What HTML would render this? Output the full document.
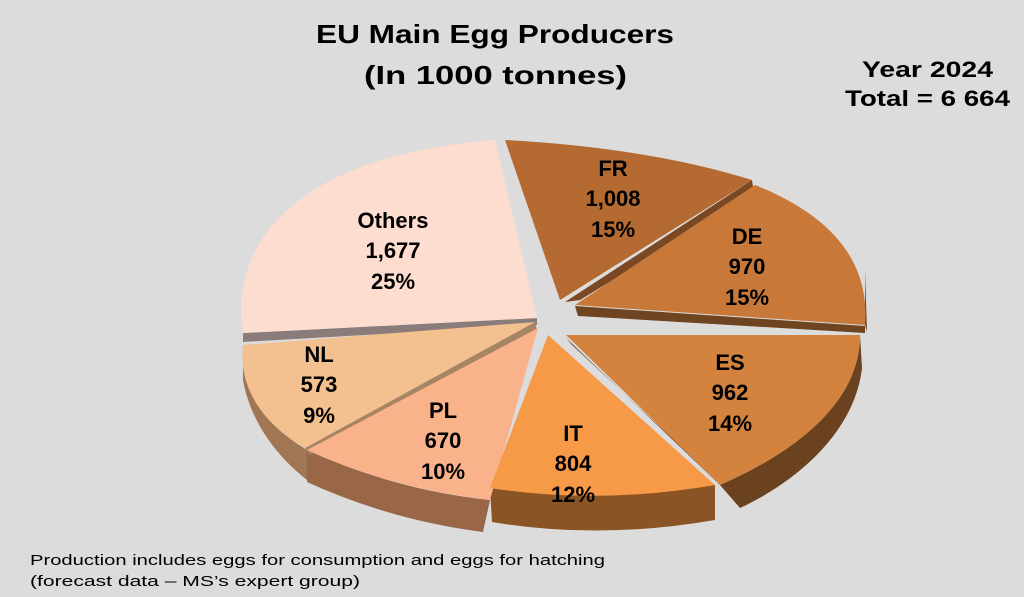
<!DOCTYPE html>
<html><head><meta charset="utf-8"><style>
html,body{margin:0;padding:0;background:#dcdcdc;}
svg{display:block;}
text{font-family:"Liberation Sans",sans-serif;font-weight:bold;fill:#000;}
</style></head><body>
<svg width="1024" height="597" viewBox="0 0 1024 597">
<rect width="1024" height="597" fill="#dcdcdc"/>
<text x="316" y="43" font-size="26" textLength="358" lengthAdjust="spacingAndGlyphs">EU Main Egg Producers</text>
<text x="364" y="84" font-size="26" textLength="263" lengthAdjust="spacingAndGlyphs">(In 1000 tonnes)</text>
<text x="862" y="77" font-size="22" textLength="131" lengthAdjust="spacingAndGlyphs">Year 2024</text>
<text x="845" y="106" font-size="22" textLength="165" lengthAdjust="spacingAndGlyphs">Total = 6 664</text>

<!-- side faces -->
<path d="M243,345 L243,380 C250,420 275,455 307,480 L307,450 C265,425 240,390 243,345 Z" fill="#a07655"/>
<path d="M307,450 L307,482 Q390,520 483,532 L490,500 Q395,490 307,450 Z" fill="#9a6648"/>
<path d="M490,488 L492,522 Q600,540 715,520 L715,485 Q600,503 490,488 Z" fill="#8a5424"/>
<path d="M860,335 L862,368 C855,430 800,480 740,508 L720,485 C800,450 860,400 860,335 Z" fill="#6a4220"/>
<path d="M865,270 L867,332 L865,325 Z" fill="#6e4520"/>
<path d="M575,306 L865,326 L865,333 L578,316 Z" fill="#6e4520"/>
<path d="M752,180 L754,194 L580,300 L565,302 Z" fill="#7a4822"/>
<path d="M243,333 L537,318 L537,325 L243,342 Z" fill="#8a7c7a"/>
<path d="M305,448 L535,322 L537,330 L310,455 Z" fill="#a78462"/>
<path d="M566,338 L720,485 L730,492 L572,345 Z" fill="#6a4220"/>

<!-- top faces -->
<path d="M537,318 L243,333 C228,240 300,155 495,140 Z" fill="#fdddd0"/>
<path d="M535,322 L243,345 C238,390 265,425 305,448 Z" fill="#f3c08f"/>
<path d="M538,328 L307,450 Q390,488 490,500 Z" fill="#f9b28a"/>
<path d="M548,335 L490,488 Q600,505 715,485 Z" fill="#f79a48"/>
<path d="M566,335 L860,335 C860,400 800,450 720,485 Z" fill="#d4833f"/>
<path d="M575,305 L755,185 C830,215 870,260 865,325 Z" fill="#c8793a"/>
<path d="M560,300 L505,140 Q650,148 752,180 Z" fill="#b46a30"/>

<g font-size="22" text-anchor="middle">
<text x="613" y="176">FR</text><text x="613" y="206">1,008</text><text x="613" y="237">15%</text>
<text x="747" y="244">DE</text><text x="747" y="274">970</text><text x="747" y="305">15%</text>
<text x="730" y="370">ES</text><text x="730" y="400">962</text><text x="730" y="431">14%</text>
<text x="573" y="441">IT</text><text x="573" y="471">804</text><text x="573" y="502">12%</text>
<text x="443" y="418">PL</text><text x="443" y="448">670</text><text x="443" y="479">10%</text>
<text x="319" y="362">NL</text><text x="319" y="392">573</text><text x="319" y="423">9%</text>
<text x="393" y="228">Others</text><text x="393" y="258">1,677</text><text x="393" y="289">25%</text>
</g>
<text x="30" y="565" font-size="15" style="font-weight:normal" textLength="575" lengthAdjust="spacingAndGlyphs">Production includes eggs for consumption and eggs for hatching</text>
<text x="30" y="586" font-size="15" style="font-weight:normal" textLength="330" lengthAdjust="spacingAndGlyphs">(forecast data – MS’s expert group)</text>
</svg>
</body></html>
